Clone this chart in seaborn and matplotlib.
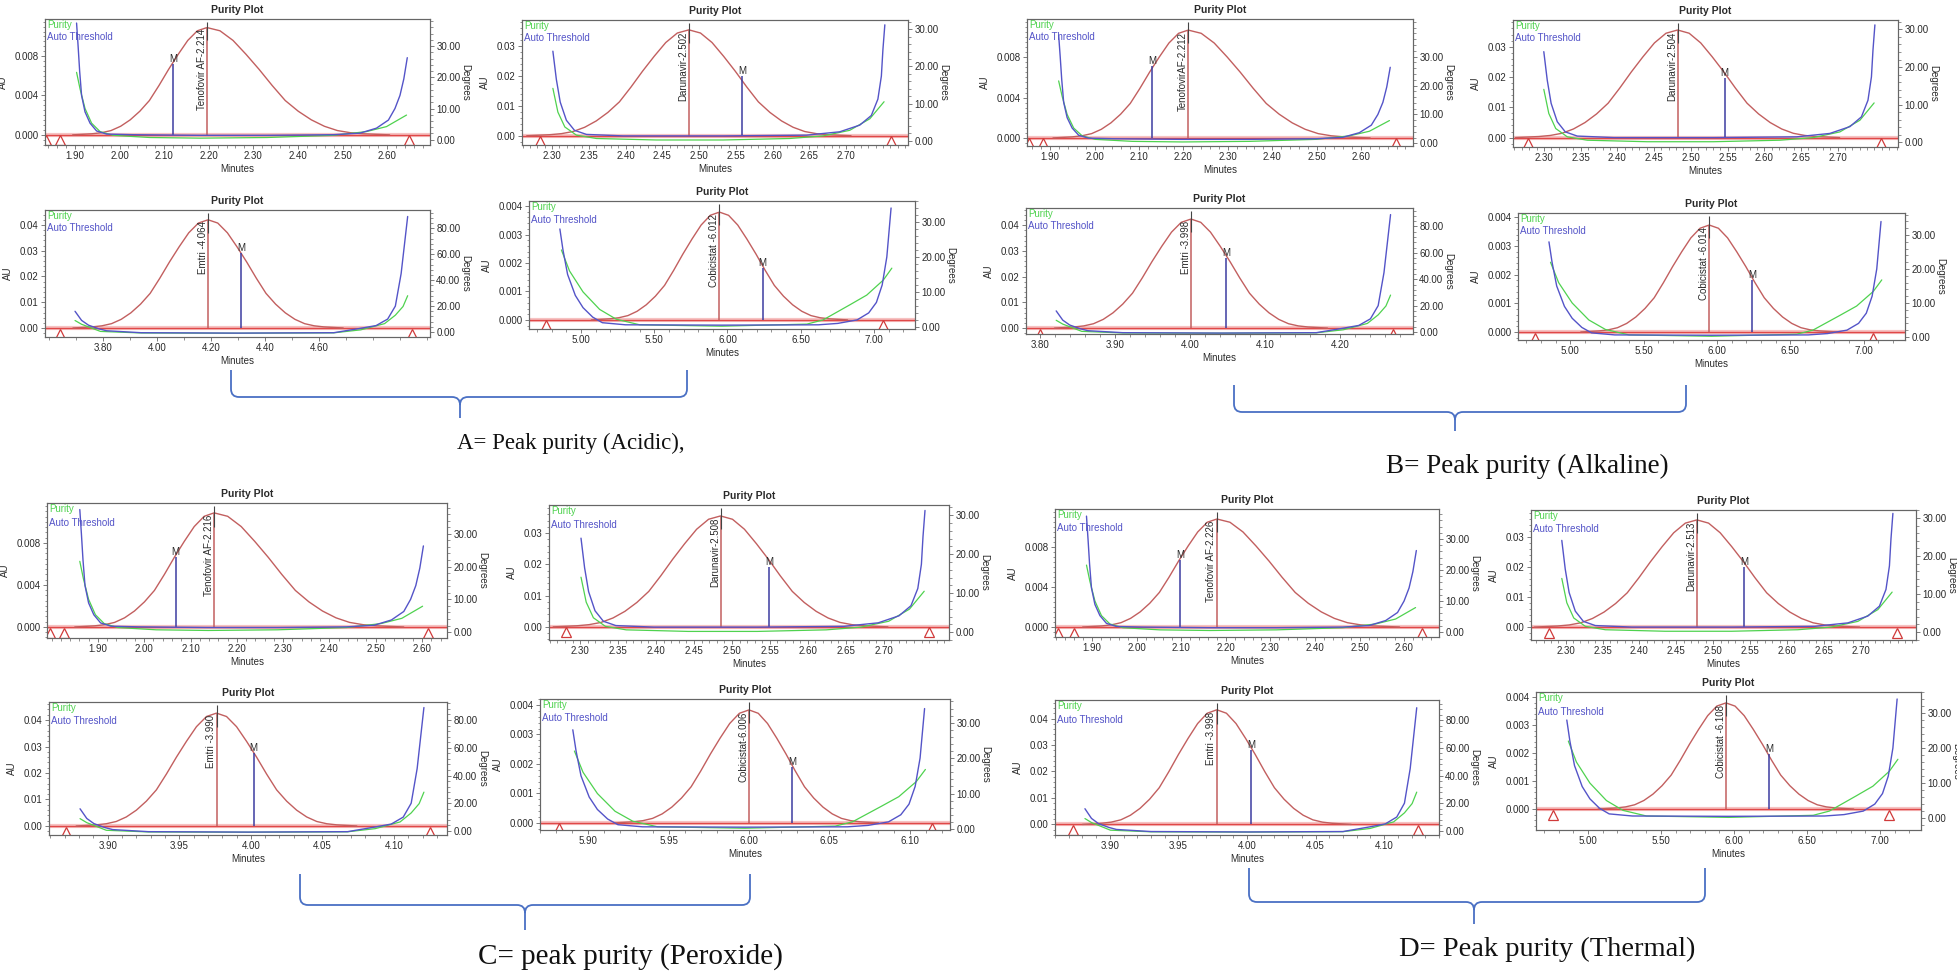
import numpy as np
import matplotlib
matplotlib.use('Agg')
import matplotlib.pyplot as plt
import matplotlib.transforms as mtrans
from matplotlib.path import Path
from matplotlib.patches import PathPatch
from matplotlib.ticker import FixedLocator, MultipleLocator, FormatStrFormatter
import seaborn as sns

sns.set_theme(style='white')
plt.rcParams['font.family'] = ['Liberation Sans', 'DejaVu Sans']

# ---- data ----
# panel order: A(row1 c1,c2 / row2 c1,c2), B(row1 c3,c4 / row2 c3,c4), C(...), D(...)
# drug: 0 Tenofovir, 1 Darunavir, 2 Emtri, 3 Cobicistat
drug = [0, 1, 0, 1, 2, 3, 2, 3, 0, 1, 0, 1, 2, 3, 2, 3]
names = ['Tenofovir AF-2.214', 'Darunavir-2.502', 'TenofovirAF-2.212', 'Darunavir-2.504',
         'Emtri -4.064', 'Cobicistat -6.012', 'Emtri -3.998', 'Cobicistat -6.014',
         'Tenofovir AF-2.216', 'Darunavir-2.508', 'Tenofovir AF-2.226', 'Darunavir-2.513',
         'Emtri -3.990', 'Cobicistat-6.006', 'Emtri -3.998', 'Cobicistat -6.108']

x_lo = [1.833, 2.259, 1.848, 2.258, 3.585, 4.644, 3.781, 4.644,
        1.790, 2.259, 1.817, 2.253, 3.859, 5.870, 3.860, 4.644]
x_hi = [2.696, 2.784, 2.717, 2.782, 5.011, 7.281, 4.297, 7.281,
        2.654, 2.786, 2.678, 2.775, 4.137, 6.125, 4.140, 7.281]

ticks_teno = [1.90, 2.00, 2.10, 2.20, 2.30, 2.40, 2.50, 2.60]
ticks_daru = [2.30, 2.35, 2.40, 2.45, 2.50, 2.55, 2.60, 2.65, 2.70]
ticks_emtri_a = [3.80, 4.00, 4.20, 4.40, 4.60]
ticks_emtri_b = [3.80, 3.90, 4.00, 4.10, 4.20]
ticks_emtri_cd = [3.90, 3.95, 4.00, 4.05, 4.10]
ticks_cobi = [5.00, 5.50, 6.00, 6.50, 7.00]
ticks_cobi_c = [5.90, 5.95, 6.00, 6.05, 6.10]
x_ticks = [ticks_teno, ticks_daru, ticks_teno, ticks_daru,
           ticks_emtri_a, ticks_cobi, ticks_emtri_b, ticks_cobi,
           ticks_teno, ticks_daru, ticks_teno, ticks_daru,
           ticks_emtri_cd, ticks_cobi_c, ticks_emtri_cd, ticks_cobi]
x_minor = [0.02, 0.01, 0.02, 0.01, 0.10, 0.10, 0.02, 0.10,
           0.02, 0.01, 0.02, 0.01, 0.01, 0.01, 0.01, 0.10]

peak_rt = [2.196, 2.486, 2.211, 2.482, 4.189, 5.945, 4.001, 5.947,
           2.151, 2.485, 2.180, 2.478, 3.976, 6.000, 3.978, 5.945]
m_rt = [2.120, 2.558, 2.130, 2.546, 4.311, 6.240, 4.048, 6.240,
        2.068, 2.549, 2.097, 2.542, 4.002, 6.027, 4.003, 6.240]
peak_au = [0.0109, 0.0355, 0.0107, 0.0355, 0.0420, 0.00379, 0.0424, 0.00373,
           0.01086, 0.0355, 0.0108, 0.0357, 0.0426, 0.00383, 0.0433, 0.00379]
m_au = [0.0072, 0.0200, 0.0071, 0.0195, 0.0290, 0.00182, 0.0272, 0.00181,
        0.00667, 0.0192, 0.0067, 0.0200, 0.0275, 0.0019, 0.0280, 0.00196]
sig_l = [0.086, 0.063, 0.087, 0.063, 0.143, 0.25, 0.052, 0.25,
         0.086, 0.063, 0.086, 0.063, 0.028, 0.024, 0.028, 0.25]
sig_r = [0.117, 0.063, 0.117, 0.063, 0.143, 0.25, 0.052, 0.25,
         0.117, 0.063, 0.117, 0.063, 0.028, 0.023, 0.028, 0.25]
tri_x = [[1.836, 1.867, 2.650], [2.284, 2.761], [1.853, 1.884, 2.679], [2.278, 2.759],
         [3.641, 4.944], [4.760, 7.060], [3.800, 4.270], [4.760, 7.060],
         [1.796, 1.826, 2.613], [2.281, 2.759], [1.824, 1.860, 2.640], [2.277, 2.749],
         [3.871, 4.125], [5.882, 6.114], [3.873, 4.125], [4.760, 7.060]]

au_lo = [-0.00103, -0.0031, -0.0008, -0.0031, -0.0035, -0.00032, -0.0023, -0.00028,
         -0.00105, -0.0042, -0.0010, -0.0043, -0.0034, -0.00024, -0.0040, -0.00075]
au_hi = [0.01177, 0.0388, 0.0118, 0.0388, 0.0458, 0.00418, 0.0467, 0.00415,
         0.0118, 0.0390, 0.0118, 0.0390, 0.0468, 0.00420, 0.0470, 0.00418]
deg_lo = [-1.7, -1.15, -0.9, -1.2, -3.8, -0.6, -1.5, -0.9,
          -1.8, -2.0, -1.6, -2.1, -2.9, -0.3, -3.0, -3.4]
deg_hi = [38.7, 32.5, 43.0, 32.5, 94.0, 36.0, 94.0, 36.5,
          39.4, 32.6, 39.7, 32.1, 93.0, 36.7, 94.6, 36.0]

au_ticks = [[0, 0.004, 0.008], [0, 0.01, 0.02, 0.03],
            [0, 0.01, 0.02, 0.03, 0.04], [0, 0.001, 0.002, 0.003, 0.004]]
au_fmt = ['%.3f', '%.2f', '%.2f', '%.3f']
au_minor = [0.0005, 0.002, 0.002, 0.0002]
deg_ticks = [[0, 10, 20, 30], [0, 10, 20, 30], [0, 20, 40, 60, 80], [0, 10, 20, 30]]
deg_minor = [2, 2, 4, 2]

# peak profile (offset in peak widths, fraction of apex height)
peak_off = [-3.5, -3.0, -2.75, -2.5, -2.25, -2.0, -1.75, -1.5, -1.25, -1.0, -0.75, -0.5, -0.25, 0.0,
            0.25, 0.5, 0.75, 1.0, 1.25, 1.5, 1.75, 2.0, 2.25, 2.5, 2.75, 3.0, 3.5]
peak_val = [0.0, 0.01, 0.02, 0.04, 0.08, 0.14, 0.22, 0.32, 0.46, 0.61, 0.75, 0.88, 0.97, 1.0,
            0.97, 0.88, 0.75, 0.61, 0.46, 0.32, 0.22, 0.14, 0.08, 0.04, 0.02, 0.01, 0.0]

# purity / threshold curves: position across the window (0-1) and degrees
teno_thr_u = [0.082, 0.086, 0.090, 0.095, 0.104, 0.117, 0.134, 0.160, 0.229, 0.40, 0.576, 0.749,
              0.818, 0.861, 0.892, 0.909, 0.922, 0.932, 0.941]
teno_thr_deg = [37.4, 30.0, 22.0, 14.2, 8.9, 5.3, 2.8, 1.8, 1.6, 1.4, 1.4, 1.6,
                2.1, 3.7, 6.3, 10.0, 14.2, 19.5, 26.3]
teno_pur_u = [0.082, 0.091, 0.104, 0.121, 0.143, 0.177, 0.273, 0.403, 0.576, 0.749, 0.835, 0.887, 0.939]
teno_pur_deg = [21.6, 16.3, 10.0, 5.3, 2.6, 1.4, 0.7, 0.5, 0.7, 1.4, 2.6, 4.2, 7.9]

daru_thr_u = [0.080, 0.089, 0.099, 0.115, 0.136, 0.167, 0.262, 0.521, 0.737, 0.823, 0.875, 0.905,
              0.922, 0.931, 0.935, 0.940]
daru_thr_deg = [24.1, 16.5, 10.4, 5.5, 2.8, 1.7, 1.3, 1.3, 1.5, 2.4, 4.2, 6.8, 11.2, 17.4, 24.5, 31.2]
daru_pur_u = [0.080, 0.093, 0.111, 0.141, 0.193, 0.348, 0.521, 0.693, 0.780, 0.849, 0.901, 0.938]
daru_pur_deg = [14.1, 7.7, 3.7, 1.5, 0.6, 0.2, 0.2, 0.6, 1.3, 2.8, 5.9, 10.5]

emtri_thr_u = [0.078, 0.095, 0.113, 0.140, 0.160, 0.25, 0.50, 0.75, 0.82, 0.86, 0.89, 0.91, 0.925, 0.942]
emtri_thr_deg = [16.0, 9.0, 5.3, 2.5, 1.0, -0.5, -0.8, -0.5, 2.9, 5.0, 10.0, 20.0, 45.0, 89.0]
emtri_pur_u = [0.078, 0.095, 0.113, 0.144, 0.25, 0.50, 0.75, 0.82, 0.882, 0.91, 0.93, 0.942]
emtri_pur_deg = [8.9, 6.0, 4.0, 0.5, -0.7, -0.9, -0.6, 1.7, 6.5, 13.0, 19.7, 28.0]

cobi_thr_u = [0.080, 0.088, 0.100, 0.120, 0.140, 0.165, 0.190, 0.25, 0.50, 0.75, 0.80, 0.85,
              0.88, 0.90, 0.915, 0.927, 0.938]
cobi_thr_deg = [28.0, 22.0, 15.0, 9.0, 5.5, 2.8, 1.2, 0.6, 0.5, 0.6, 1.0, 2.0,
                4.0, 7.0, 12.0, 20.0, 34.0]
cobi_pur_u = [0.084, 0.105, 0.14, 0.183, 0.226, 0.287, 0.50, 0.72, 0.762, 0.831, 0.875, 0.918, 0.94]
cobi_pur_deg = [22.0, 16.0, 10.0, 5.0, 2.2, 0.6, 0.2, 0.8, 2.0, 6.3, 9.1, 13.4, 16.8]

thr_u = [teno_thr_u, daru_thr_u, emtri_thr_u, cobi_thr_u]
thr_deg = [teno_thr_deg, daru_thr_deg, emtri_thr_deg, cobi_thr_deg]
pur_u = [teno_pur_u, daru_pur_u, emtri_pur_u, cobi_pur_u]
pur_deg = [teno_pur_deg, daru_pur_deg, emtri_pur_deg, cobi_pur_deg]

captions = ['A= Peak purity (Acidic),', 'B= Peak purity (Alkaline)',
            'C= peak purity (Peroxide)', 'D= Peak purity (Thermal)']

# ---- layout (pixels: left, top, right, bottom) ----
W, H = 1958, 972
boxes = [(45, 19, 430, 145), (522, 20, 908, 145), (1027, 19, 1413, 146), (1513, 20, 1898, 147),
         (45, 210, 430, 337), (529, 201, 915, 329), (1026, 208, 1413, 334), (1518, 213, 1905, 340),
         (47, 503, 447, 638), (549, 505, 949, 640), (1055, 509, 1439, 637), (1531, 510, 1916, 640),
         (49, 702, 447, 835), (540, 699, 950, 830), (1055, 700, 1439, 835), (1536, 692, 1921, 830)]
# brace: left x, right x, arm top, bar y, tip x, tip y
braces = [(231, 687, 370, 397, 460, 418), (1234, 1686, 385, 412, 1455, 431),
          (300, 750, 874, 905, 525, 930), (1249, 1705, 868, 902, 1474, 924)]
cap_pos = [(571, 443, 16.5), (1527, 466, 19.5), (630, 957, 21), (1547, 949, 20.5)]

RED = '#c25f5f'
BASE = '#e04848'
BLUE = '#5454c8'
MBLUE = '#3c3ca0'
GREEN = '#4fd24f'
TXT = '#2a2a2a'
SPINE = '#666666'

fig = plt.figure(figsize=(W / 100, H / 100), dpi=100)

for i in range(16):
    l, t, r, b = boxes[i]
    d = drug[i]
    ax = fig.add_axes([l / W, 1 - b / H, (r - l) / W, (b - t) / H])
    ax2 = ax.twinx()
    ax.set_zorder(1)
    ax2.set_zorder(2)
    ax.patch.set_facecolor('white')

    # baseline
    ax.axhline(0, color='#f3a8a8', lw=3.0, alpha=0.7, zorder=1)
    ax.axhline(0, color=BASE, lw=1.0, zorder=2)

    # peak trace
    off = np.array(peak_off)
    sig = np.where(off < 0, sig_l[i], sig_r[i])
    px = peak_rt[i] + off * sig
    py = peak_au[i] * np.array(peak_val)
    sns.lineplot(x=px, y=py, ax=ax, color=RED, linewidth=1.0, estimator=None, sort=False, zorder=3)

    # apex marker line + label
    ax.vlines(peak_rt[i], 0, peak_au[i], color=RED, lw=1.1, zorder=4)
    ax.vlines(peak_rt[i], peak_au[i] * 0.88, au_hi[i] * 0.975, color='#444444', lw=0.8, zorder=4)
    lab_tr = mtrans.offset_copy(ax.transData, fig=fig, x=-0.3, units='points')
    ax.text(peak_rt[i], peak_au[i] * 0.985, names[i], rotation=90, ha='right', va='top',
            fontsize=7, color=TXT, transform=lab_tr, zorder=5)

    # M marker
    ax.vlines(m_rt[i], 0, m_au[i], color=MBLUE, lw=1.1, zorder=4)
    ax.text(m_rt[i], m_au[i], 'M', ha='center', va='bottom', fontsize=7, color=TXT, zorder=5)

    # start / end triangles
    tri_tr = mtrans.offset_copy(ax.transData, fig=fig, y=-4, units='points')
    ax.plot(tri_x[i], [0] * len(tri_x[i]), ls='none', marker='^', ms=6.5, mfc='none',
            mec='#d03a3a', mew=0.9, transform=tri_tr, zorder=5)

    # purity and threshold (degrees)
    x0, x1 = x_lo[i], x_hi[i]
    tx = x0 + np.array(thr_u[d]) * (x1 - x0)
    gx = x0 + np.array(pur_u[d]) * (x1 - x0)
    sns.lineplot(x=gx, y=pur_deg[d], ax=ax2, color=GREEN, linewidth=0.9, estimator=None, sort=False)
    sns.lineplot(x=tx, y=thr_deg[d], ax=ax2, color=BLUE, linewidth=1.0, estimator=None, sort=False)

    ax2.text(0.005, 0.955, 'Purity', transform=ax2.transAxes, color=GREEN, fontsize=7, va='center')
    ax2.text(0.005, 0.855, 'Auto Threshold', transform=ax2.transAxes, color=BLUE, fontsize=7, va='center')

    # axes
    ax.set_xlim(x0, x1)
    ax.set_ylim(au_lo[i], au_hi[i])
    ax2.set_ylim(deg_lo[i], deg_hi[i])
    ax.xaxis.set_major_locator(FixedLocator(x_ticks[i]))
    ax.xaxis.set_major_formatter(FormatStrFormatter('%.2f'))
    ax.xaxis.set_minor_locator(MultipleLocator(x_minor[i]))
    ax.yaxis.set_major_locator(FixedLocator(au_ticks[d]))
    ax.yaxis.set_major_formatter(FormatStrFormatter(au_fmt[d]))
    ax.yaxis.set_minor_locator(MultipleLocator(au_minor[d]))
    ax2.yaxis.set_major_locator(FixedLocator(deg_ticks[d]))
    ax2.yaxis.set_major_formatter(FormatStrFormatter('%.2f'))
    ax2.yaxis.set_minor_locator(MultipleLocator(deg_minor[d]))

    for a in (ax, ax2):
        for s in a.spines.values():
            s.set_color(SPINE)
            s.set_linewidth(0.8)
        a.tick_params(which='major', direction='out', length=3, width=0.6, color=SPINE,
                      labelsize=7, labelcolor=TXT, pad=1.5)
        a.tick_params(which='minor', direction='out', length=1.8, width=0.5, color=SPINE)
    ax.tick_params(which='both', left=True, bottom=True, top=False, right=False)
    ax2.tick_params(which='both', right=True, left=False, bottom=False, top=False)

    ax.set_xlabel('Minutes', fontsize=7, color=TXT, labelpad=2)
    ax.set_ylabel('AU', fontsize=7, color=TXT, labelpad=5)
    ax2.set_ylabel('Degrees', fontsize=7, color=TXT, rotation=270, labelpad=7)
    ax.set_title('Purity Plot', fontsize=7.5, fontweight='bold', color=TXT, pad=4)

# braces and captions
ov = fig.add_axes([0, 0, 1, 1], zorder=-5)
ov.set_xlim(0, W)
ov.set_ylim(H, 0)
ov.axis('off')
for (xl, xr, top, mid, tipx, tipy) in braces:
    rr = 8
    verts = [(xl, top), (xl, mid - rr), (xl, mid), (xl + rr, mid), (tipx - rr, mid), (tipx, mid), (tipx, mid + rr),
             (tipx, tipy),
             (xr, top), (xr, mid - rr), (xr, mid), (xr - rr, mid), (tipx + rr, mid), (tipx, mid), (tipx, mid + rr)]
    codes = [Path.MOVETO, Path.LINETO, Path.CURVE3, Path.CURVE3, Path.LINETO, Path.CURVE3, Path.CURVE3,
             Path.LINETO,
             Path.MOVETO, Path.LINETO, Path.CURVE3, Path.CURVE3, Path.LINETO, Path.CURVE3, Path.CURVE3]
    ov.add_patch(PathPatch(Path(verts, codes), fill=False, edgecolor='#4a70c4', lw=1.3))

for cap, (cx, cy, fs) in zip(captions, cap_pos):
    ov.text(cx, cy, cap, ha='center', va='center', fontsize=fs, color='#111111',
            family=['Liberation Serif', 'DejaVu Serif'])

fig.savefig('out.png', dpi=100)
